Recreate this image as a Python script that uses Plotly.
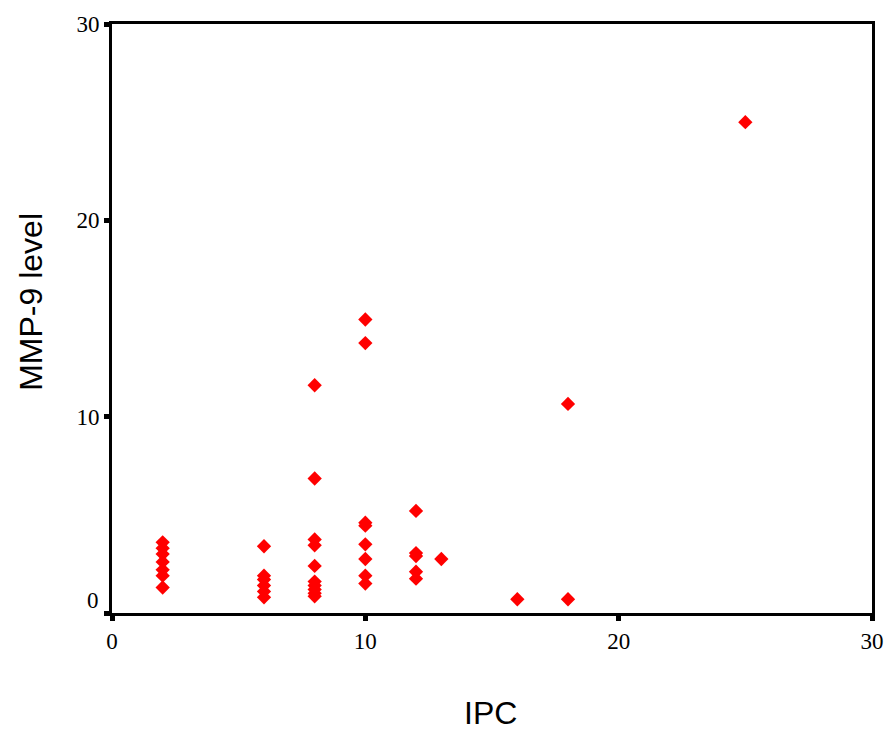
import plotly.graph_objects as go

# Data
ipc = [2, 2, 2, 2, 2, 2, 2,
       6, 6, 6, 6, 6, 6,
       8, 8, 8, 8, 8, 8, 8, 8, 8, 8,
       10, 10, 10, 10, 10, 10, 10, 10,
       12, 12, 12, 12, 12,
       13, 16, 18, 18, 25]
mmp9 = [3.6, 3.3, 3.0, 2.6, 2.2, 1.9, 1.3,
        3.4, 1.9, 1.7, 1.4, 1.1, 0.8,
        11.6, 6.85, 3.75, 3.45, 2.4, 1.6, 1.4, 1.2, 1.0, 0.85,
        14.95, 13.75, 4.6, 4.45, 3.5, 2.75, 1.9, 1.5,
        5.2, 3.05, 2.9, 2.1, 1.75,
        2.75, 0.7, 10.65, 0.7, 25.0]

x_ticks = [0, 10, 20, 30]
y_ticks = [0, 10, 20, 30]
y_ticktext = ["", "10", "20", "30"]

fig = go.Figure()
fig.add_trace(go.Scatter(
    x=ipc, y=mmp9, mode="markers",
    marker=dict(symbol="diamond", size=11, color="#FF0000", line=dict(width=0)),
    showlegend=False,
))

tick_font = dict(family="Liberation Serif, Times New Roman, serif", size=23, color="black")
title_font = dict(family="Liberation Sans, Arial, sans-serif", size=32, color="black")

W, H = 896, 731
L, R, T, B = 112, 17, 22, 118
pw = W - L - R
ph = H - T - B

fig.update_layout(
    width=W, height=H, autosize=False,
    margin=dict(l=L, r=R, t=T, b=B),
    paper_bgcolor="white", plot_bgcolor="white",
    xaxis=dict(range=[0, 30], tickvals=x_ticks, ticks="outside", ticklen=5, tickwidth=5,
               tickcolor="black", showline=True, linecolor="black", linewidth=3,
               mirror=True, showgrid=False, zeroline=False, tickfont=tick_font),
    yaxis=dict(range=[0, 30], tickvals=y_ticks, ticktext=y_ticktext, ticks="outside",
               ticklen=5, tickwidth=5, tickcolor="black", showline=True, linecolor="black",
               linewidth=3, mirror=True, showgrid=False, zeroline=False, tickfont=tick_font),
    annotations=[
        dict(text="0", x=0, y=0, xref="paper", yref="y", xanchor="right", yanchor="middle",
             xshift=-11, yshift=13, showarrow=False, font=tick_font),
        dict(text="IPC", xref="paper", yref="paper",
             x=(494 - L) / pw, y=(H - B - 713) / ph, showarrow=False,
             font=title_font, xanchor="center", yanchor="middle"),
        dict(text="MMP-9 level", xref="paper", yref="paper",
             x=(30 - L) / pw, y=(H - B - 301) / ph, showarrow=False, textangle=-90,
             font=title_font, xanchor="center", yanchor="middle"),
    ],
)

fig.write_html(
    "out.html",
    config={"displayModeBar": False, "responsive": False},
    post_script="document.body.style.margin='0';document.body.style.overflow='hidden';",
)
